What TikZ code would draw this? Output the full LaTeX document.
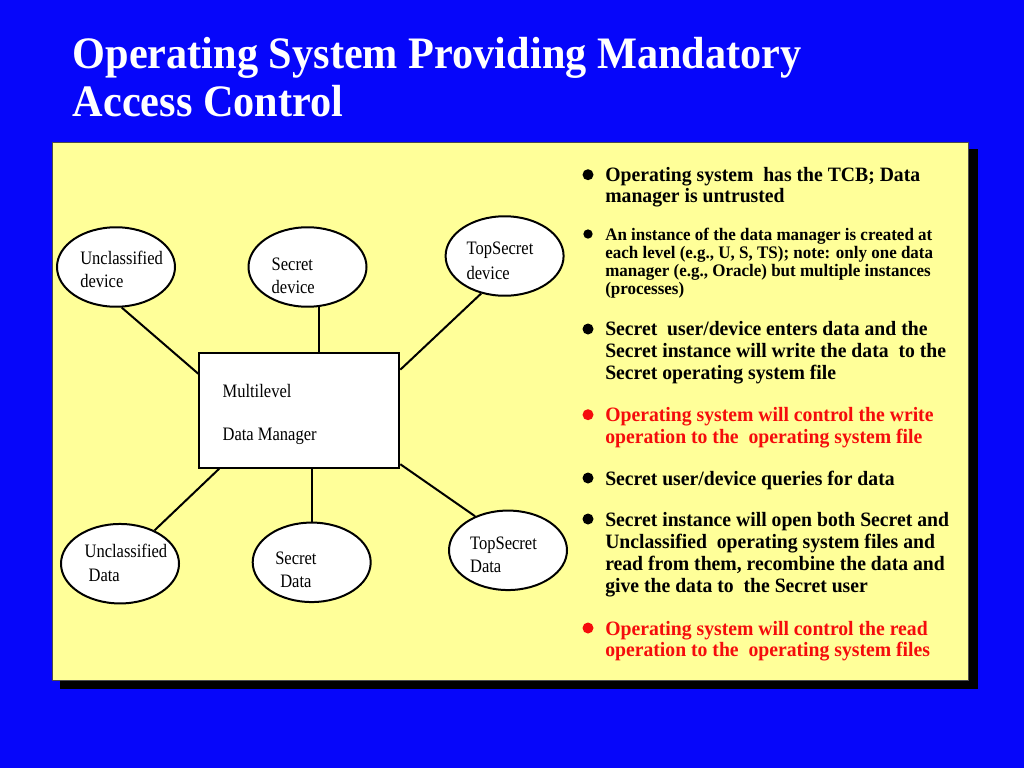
\documentclass[tikz,border=0pt]{standalone}
\usepackage{fontspec}
\setmainfont{Liberation Serif}
\newfontfamily\titlefam{Liberation Serif}[FakeStretch=0.94]
\newfontfamily\bulfam{Liberation Serif}[FakeStretch=0.965]
\newfontfamily\diagfam{Liberation Serif}[FakeStretch=0.87]
\usetikzlibrary{shapes.geometric}
\definecolor{bgblue}{RGB}{6,6,250}
\definecolor{panelyellow}{RGB}{255,255,153}
\definecolor{alertred}{RGB}{245,12,12}
\begin{document}
\begin{tikzpicture}[x=0.75pt,y=-0.75pt,
  ell/.style={ellipse, draw=black, line width=1.5pt, fill=white, inner sep=0pt,
    minimum width=88.5pt, minimum height=59.6pt},
  mgr/.style={rectangle, draw=black, line width=1.5pt, fill=white, inner sep=0pt,
    minimum width=150pt, minimum height=85.8pt},
  conn/.style={draw=black, line width=1.5pt},
  txt/.style={anchor=base west, inner sep=0pt, font=\diagfam\fontsize{14.25}{17}\selectfont},
  bul/.style={anchor=base west, inner sep=0pt},
  bigdot/.style={circle, inner sep=0pt, minimum size=8.25pt},
  smalldot/.style={circle, inner sep=0pt, minimum size=7pt},
  ttl/.style={anchor=base west, inner sep=0pt, text=white}
]
\useasboundingbox (0,0) rectangle (1024,768);
\fill[bgblue] (0,0) rectangle (1024,768);

% title
\node[ttl, font=\titlefam\bfseries\fontsize{33.75}{36.3}\selectfont] (title) at (72.5,68.3)
  {\begin{tabular}[t]{@{}l@{}}Operating System Providing Mandatory\\Access Control\end{tabular}};

% panel with shadow
\fill[black] (60,149) rectangle (977.5,689);
\filldraw[fill=panelyellow, draw=black!70, line width=0.75pt] (52,142.3) rectangle (968.3,680);

% diagram shapes
\node[ell] (ud) at (116,267) {};
\node[ell] (sd) at (307.5,267) {};
\node[ell] (td) at (504.6,256) {};
\node[mgr] (box) at (299.3,410.5) {};
\node[ell] (uD) at (120,563.7) {};
\node[ell] (sD) at (311.7,562.3) {};
\node[ell] (tD) at (508,550.3) {};

% connectors
\draw[conn] (ud.-82.3) -- (box.160.1);
\draw[conn] (sd.-74.4) -- (sd.-74.4 |- box.north);
\draw[conn] (td.-122.7) -- (box.22.4);
\draw[conn] (box.-144.4) -- (uD.44.8);
\draw[conn] (sD.north) -- (sD.north |- box.south);
\draw[conn] (box.-28.6) -- (tD.134.2);

% diagram texts
\node[txt] (ud1) at (80,264) {Unclassified};
\node[txt] (ud2) at (80,287.3) {device};
\node[txt] (sd1) at (271.4,270) {Secret};
\node[txt] (sd2) at (271.4,293.3) {device};
\node[txt] (td1) at (466.3,254.3) {TopSecret};
\node[txt] (td2) at (466.3,279) {device};
\node[txt] (m1) at (222.3,397.7) {Multilevel};
\node[txt] (m2) at (222.3,440.7) {Data Manager};
\node[txt] (uD1) at (84.3,557.3) {Unclassified};
\node[txt] (uD2) at (88.3,581.7) {Data};
\node[txt] (sD1) at (275,564) {Secret};
\node[txt] (sD2) at (280,587.7) {Data};
\node[txt] (tD1) at (469.8,549) {TopSecret};
\node[txt] (tD2) at (469.8,572.7) {Data};

% bullets
\node[bigdot, fill=black] (d1) at (588,174.7) {};
\node[bul, font=\bulfam\bfseries\fontsize{15.3}{15.4}\selectfont] (b1) at (605,181.7)
  {\begin{tabular}[t]{@{}l@{}}Operating system~ has the TCB; Data\\manager is untrusted\end{tabular}};

\node[smalldot, fill=black] (d2) at (588,234) {};
\node[bul, font=\bulfam\bfseries\fontsize{13.2}{13.5}\selectfont] (b2) at (605,240)
  {\begin{tabular}[t]{@{}l@{}}An instance of the data manager is created at\\each level (e.g., U, S, TS); note: only one data\\manager (e.g., Oracle) but multiple instances\\(processes)\end{tabular}};

\node[bigdot, fill=black] (d3) at (588,329) {};
\node[bul, font=\bulfam\bfseries\fontsize{15.3}{16.5}\selectfont] (b3) at (605,335.7)
  {\begin{tabular}[t]{@{}l@{}}Secret~ user/device enters data and the\\Secret instance will write the data~ to the\\Secret operating system file\end{tabular}};

\node[bigdot, fill=alertred] (d4) at (588,414.7) {};
\node[bul, text=alertred, font=\bulfam\bfseries\fontsize{15.3}{16.2}\selectfont] (b4) at (605,421.7)
  {\begin{tabular}[t]{@{}l@{}}Operating system will control the write\\operation to the~ operating system file\end{tabular}};

\node[bigdot, fill=black] (d5) at (588,478) {};
\node[bul, font=\bulfam\bfseries\fontsize{15.3}{16.5}\selectfont] (b5) at (605,485)
  {Secret user/device queries for data};

\node[bigdot, fill=black] (d6) at (588,519) {};
\node[bul, font=\bulfam\bfseries\fontsize{15.3}{16.65}\selectfont] (b6) at (605,526)
  {\begin{tabular}[t]{@{}l@{}}Secret instance will open both Secret and\\Unclassified~ operating system files and\\read from them, recombine the data and\\give the data to~ the Secret user\end{tabular}};

\node[bigdot, fill=alertred] (d7) at (588,628) {};
\node[bul, text=alertred, font=\bulfam\bfseries\fontsize{15.3}{15.75}\selectfont] (b7) at (605,635)
  {\begin{tabular}[t]{@{}l@{}}Operating system will control the read\\operation to the~ operating system files\end{tabular}};
\end{tikzpicture}
\end{document}
